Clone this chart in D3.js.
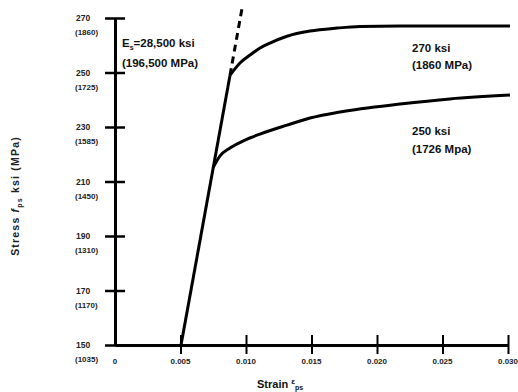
<!DOCTYPE html>
<html><head><meta charset="utf-8">
<script src="https://cdn.jsdelivr.net/npm/d3@7"></script>
<style>
html,body{margin:0;padding:0;background:#fff;}
svg{display:block;font-family:"Liberation Sans",Arial,sans-serif;}
</style></head>
<body>
<svg id="chart" width="518" height="392"></svg>
<script>
// ---- data ----
const strainTicks = [0, 0.005, 0.010, 0.015, 0.020, 0.025, 0.030];
const strainLabels = ["0", "0.005", "0.010", "0.015", "0.020", "0.025", "0.030"];
const stressTicks = [150, 170, 190, 210, 230, 250, 270];
const mpaLabels = ["(1035)", "(1170)", "(1310)", "(1450)", "(1585)", "(1725)", "(1860)"];

const elasticLine = [[0.00504, 150], [0.00878, 249]];
const elasticExtension = [[0.00878, 249], [0.00975, 275]];
const curve270 = [[0.00878, 249], [0.00954, 253.5], [0.01031, 256.4], [0.01107, 259.0], [0.01183, 260.8],
  [0.01313, 263.3], [0.01489, 265.2], [0.01695, 266.3], [0.0187, 266.9], [0.02176, 267.1], [0.03015, 267.1]];
const curve250 = [[0.00748, 215.0], [0.00802, 219.4], [0.00878, 222.3], [0.00992, 225.2], [0.01107, 227.4],
  [0.01313, 230.7], [0.01489, 233.3], [0.01718, 235.5], [0.02176, 238.4], [0.02557, 240.3], [0.03015, 241.7]];

const svg = d3.select("#chart");
const x = d3.scaleLinear().domain([0, 0.030]).range([115, 508]);
const y = d3.scaleLinear().domain([150, 270]).range([345, 18]);

// ---- axes ----
const yAxis = svg.append("g").attr("transform", "translate(115,0)")
  .call(d3.axisLeft(y).tickValues(stressTicks).tickSize(10).tickSizeOuter(0).tickFormat(""));
yAxis.select(".domain").attr("stroke", "#000").attr("stroke-width", 3);
yAxis.selectAll(".tick line").attr("x1", -10).attr("x2", 10).attr("stroke", "#000").attr("stroke-width", 2.5);

const xAxis = svg.append("g").attr("transform", "translate(0,345)")
  .call(d3.axisBottom(x).tickValues(strainTicks).tickSize(10).tickSizeOuter(0).tickFormat(""));
xAxis.select(".domain").attr("stroke", "#000").attr("stroke-width", 3);
xAxis.selectAll(".tick line").attr("y1", -10).attr("y2", 9).attr("stroke", "#000").attr("stroke-width", 2);
xAxis.selectAll(".tick").filter(d => d === 0).select("line").remove();

// y tick labels
stressTicks.forEach((v, i) => {
  svg.append("text").attr("x", 76).attr("y", y(v) + 3)
    .attr("font-size", 8.5).attr("font-weight", "bold").attr("fill", "#222").text(v);
  svg.append("text").attr("x", 75).attr("y", y(v) + 17)
    .attr("font-size", 8).attr("font-weight", "bold").attr("fill", "#222").text(mpaLabels[i]);
});
// x tick labels
strainTicks.forEach((v, i) => {
  svg.append("text").attr("x", x(v)).attr("y", 364).attr("text-anchor", "middle")
    .attr("font-size", 8).attr("font-weight", "bold").attr("fill", "#222").text(strainLabels[i]);
});

// ---- axis titles ----
const xt = svg.append("text").attr("x", 257).attr("y", 388)
  .attr("font-size", 11).attr("font-weight", "bold").attr("fill", "#111");
xt.append("tspan").text("Strain ");
xt.append("tspan").attr("font-size", 8).attr("dy", -4).text("ε");
xt.append("tspan").attr("font-size", 7).attr("dy", 6).text("ps");

const yt = svg.append("text").attr("transform", "translate(19,196) rotate(-90)")
  .attr("text-anchor", "middle").attr("font-size", 10.5).attr("font-weight", "bold")
  .attr("fill", "#222").attr("letter-spacing", 1.2);
yt.append("tspan").text("Stress ");
yt.append("tspan").attr("font-style", "italic").text("f");
yt.append("tspan").attr("font-size", 7).attr("dy", 3).text("ps");
yt.append("tspan").attr("dy", -3).text(" ksi (MPa)");

// ---- curves ----
const line = d3.line().x(d => x(d[0])).y(d => y(d[1]));
const smooth = d3.line().x(d => x(d[0])).y(d => y(d[1])).curve(d3.curveMonotoneX);
svg.append("path").datum(elasticLine).attr("d", line)
  .attr("fill", "none").attr("stroke", "#000").attr("stroke-width", 3);
svg.append("path").datum(elasticExtension).attr("d", line)
  .attr("fill", "none").attr("stroke", "#000").attr("stroke-width", 3).attr("stroke-dasharray", "7,5");
svg.append("path").datum(curve270).attr("d", smooth)
  .attr("fill", "none").attr("stroke", "#000").attr("stroke-width", 3);
svg.append("path").datum(curve250).attr("d", smooth)
  .attr("fill", "none").attr("stroke", "#000").attr("stroke-width", 3);

// ---- annotations ----
function label(xp, yp, parts) {
  const t = svg.append("text").attr("x", xp).attr("y", yp)
    .attr("font-size", 11.5).attr("font-weight", "bold").attr("fill", "#111");
  parts.forEach(p => {
    const s = t.append("tspan").text(p.t);
    if (p.fs) s.attr("font-size", p.fs);
    if (p.dy) s.attr("dy", p.dy);
  });
}
label(122, 47, [{t: "E"}, {t: "s", fs: 7, dy: 3}, {t: "=28,500 ksi", dy: -3}]);
label(122, 67, [{t: "(196,500 MPa)"}]);
label(412, 52, [{t: "270 ksi"}]);
label(412, 69, [{t: "(1860 MPa)"}]);
label(412, 135, [{t: "250 ksi"}]);
label(412, 153, [{t: "(1726 Mpa)"}]);
</script>
</body></html>
